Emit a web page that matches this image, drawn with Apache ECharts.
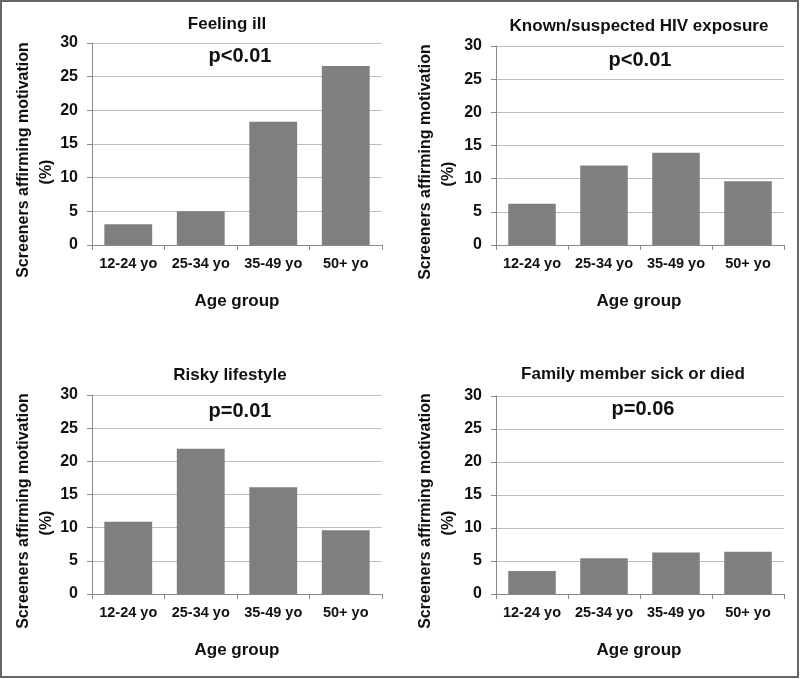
<!DOCTYPE html>
<html>
<head>
<meta charset="utf-8">
<script src="https://cdn.jsdelivr.net/npm/echarts@6/dist/echarts.min.js"></script>
<style>
html,body{margin:0;padding:0;background:#fff;}
#main{width:800px;height:679px;}
</style>
</head>
<body>
<div id="main"></div>
<script>
// ---- Data ----
const categories = ['12-24 yo', '25-34 yo', '35-49 yo', '50+ yo'];
const feelingIll = [3.1, 5.0, 18.3, 26.6];
const hivExposure = [6.2, 12.0, 13.9, 9.6];
const riskyLifestyle = [10.9, 21.9, 16.1, 9.6];
const familySick = [3.5, 5.4, 6.3, 6.4];
const panelTitles = ['Feeling ill', 'Known/suspected HIV exposure', 'Risky lifestyle', 'Family member sick or died'];
const pValues = ['p<0.01', 'p<0.01', 'p=0.01', 'p=0.06'];
const yAxisTitle = 'Screeners affirming motivation';
const yAxisUnit = '(%)';
const xAxisTitle = 'Age group';
const yMin = 0, yMax = 30, yStep = 5;

const seriesData = [feelingIll, hivExposure, riskyLifestyle, familySick];

// ---- Layout ----
const FONT = '"Liberation Sans", Arial, sans-serif';
const grids = [
  {left: 92, top: 43, width: 290, height: 202},
  {left: 496, top: 46, width: 288, height: 199},
  {left: 92, top: 395, width: 290, height: 199},
  {left: 496, top: 396, width: 288, height: 198}
];
const titlePos = [[227, 24], [639, 26], [230, 375], [633, 374]];
const pPos = [[240, 56], [640, 60], [240, 411], [643, 409]];
const agePos = [[237, 301], [639, 301], [237, 650], [639, 650]];
const yTitleX = [[24, 47], [426, 449], [24, 47], [426, 449]];
const yTitleY = [160, 162, 511, 511];
const yUnitY = [172, 174, 523, 523];

const chart = echarts.init(document.getElementById('main'), null, {renderer: 'canvas'});

const xAxes = [], yAxes = [], series = [], graphics = [];
for (let i = 0; i < 4; i++) {
  xAxes.push({
    type: 'category', gridIndex: i, data: categories,
    axisLine: {show: true, lineStyle: {color: '#8a8a8a', width: 1}},
    axisTick: {show: true, length: 5, alignWithLabel: false, interval: 0, lineStyle: {color: '#8a8a8a'}},
    axisLabel: {interval: 0, color: '#111', fontFamily: FONT, fontWeight: 'bold', fontSize: 14.5, margin: 11}
  });
  yAxes.push({
    type: 'value', gridIndex: i, min: yMin, max: yMax, interval: yStep,
    axisLine: {show: true, lineStyle: {color: '#8a8a8a', width: 1}},
    axisTick: {show: true, length: 5, lineStyle: {color: '#8a8a8a'}},
    axisLabel: {color: '#111', fontFamily: FONT, fontWeight: 'bold', fontSize: 16, margin: 14},
    splitLine: {show: true, lineStyle: {color: '#bdbdbd', width: 1}}
  });
  series.push({
    type: 'bar', xAxisIndex: i, yAxisIndex: i, data: seriesData[i],
    barCategoryGap: '34%',
    itemStyle: {color: '#7f7f7f'},
    silent: true
  });
  graphics.push({
    type: 'text', x: titlePos[i][0], y: titlePos[i][1],
    style: {text: panelTitles[i], font: 'bold 17px ' + FONT, fill: '#111', align: 'center', verticalAlign: 'middle'}
  });
  graphics.push({
    type: 'text', x: pPos[i][0], y: pPos[i][1],
    style: {text: pValues[i], font: 'bold 20px ' + FONT, fill: '#111', align: 'center', verticalAlign: 'middle'}
  });
  graphics.push({
    type: 'text', x: agePos[i][0], y: agePos[i][1],
    style: {text: xAxisTitle, font: 'bold 17px ' + FONT, fill: '#111', align: 'center', verticalAlign: 'middle'}
  });
  graphics.push({
    type: 'text', x: yTitleX[i][0], y: yTitleY[i], rotation: Math.PI / 2,
    style: {text: yAxisTitle, font: 'bold 16px ' + FONT, fill: '#111', align: 'center', verticalAlign: 'middle'}
  });
  graphics.push({
    type: 'text', x: yTitleX[i][1], y: yUnitY[i], rotation: Math.PI / 2,
    style: {text: yAxisUnit, font: 'bold 16px ' + FONT, fill: '#111', align: 'center', verticalAlign: 'middle'}
  });
}
graphics.push({
  type: 'rect', shape: {x: 1, y: 1, width: 797, height: 676},
  style: {fill: 'none', stroke: '#666', lineWidth: 2}, silent: true
});

chart.setOption({
  backgroundColor: '#ffffff',
  animation: false,
  grid: grids.map(g => Object.assign({containLabel: false}, g)),
  xAxis: xAxes,
  yAxis: yAxes,
  series: series,
  graphic: graphics
});
</script>
</body>
</html>
